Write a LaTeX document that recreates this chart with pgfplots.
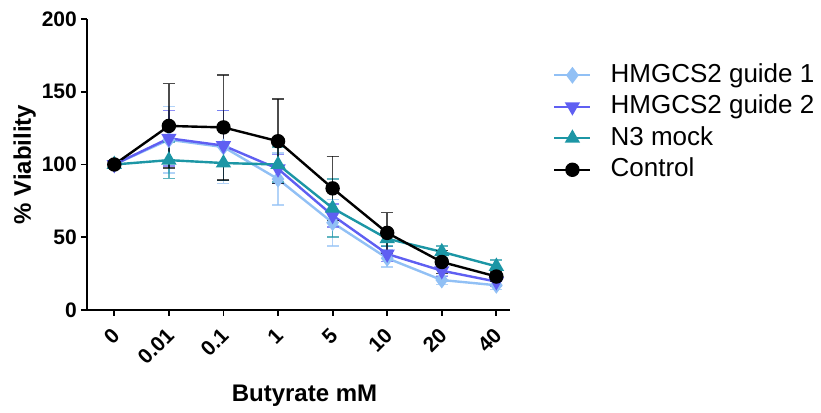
\documentclass[border=0pt]{standalone}
\usepackage{fontspec}
\setmainfont{Liberation Sans}
\usepackage{pgfplots}
\pgfplotsset{compat=1.18}
\definecolor{gone}{RGB}{145,192,245}
\definecolor{gtwo}{RGB}{95,95,242}
\definecolor{nthree}{RGB}{28,150,165}
\begin{document}
\begin{tikzpicture}
\path (0,0) rectangle (821pt,412pt);
\begin{axis}[
  at={(87pt,102pt)}, anchor=south west,
  scale only axis, width=423pt, height=291pt,
  xmin=-0.5, xmax=7.25, ymin=0, ymax=200,
  axis x line=bottom, axis y line=left,
  axis line style={-, line width=1.8pt},
  tick align=outside, major tick length=6pt,
  tick style={line width=1.8pt, black},
  xtick={0,1,2,3,4,5,6,7},
  xticklabels={0,0.01,0.1,1,5,10,20,40},
  ytick={0,50,100,150,200},
  /pgf/number format/assume math mode=true,
  ticklabel style={font=\fontsize{21}{24}\selectfont\bfseries},
  yticklabel style={inner sep=2pt, xshift=-2pt},
  xticklabel style={rotate=45, anchor=north east, inner sep=1pt, xshift=-9pt, yshift=-3.5pt},
  xlabel={Butyrate mM}, ylabel={\% Viability},
  label style={font=\fontsize{24}{28}\selectfont\bfseries},
  xlabel style={at={(axis description cs:0.5,0)}, anchor=base, yshift=-91pt, xshift=6pt},
  ylabel style={at={(axis description cs:0,0.5)}, anchor=base, yshift=56pt},
  legend style={at={(1.1017,0.852)}, anchor=north west, draw=none, fill=none,
    font=\fontsize{26}{31}\selectfont, row sep=5.5pt, inner sep=0pt,
    nodes={inner sep=0pt, text height=20pt, text depth=6pt},
    /tikz/every odd column/.append style={column sep=19pt}},
  legend cell align=left,
  legend image code/.code={\draw[mark repeat=2,mark phase=2,#1] plot coordinates {(0pt,0pt)(18pt,0pt)(36pt,0pt)};},
  every axis plot/.append style={line width=2.4pt},
  error bars/y dir=both, error bars/y explicit,
  error bars/error bar style={line width=1.5pt, opacity=0.7},
  error bars/error mark options={rotate=90, mark size=6pt, line width=1.5pt, opacity=0.7},
]
\addplot[color=gone, mark=diamond*, mark size=6.5pt] table[x=x, y=y, y error=e] {
x y e
0 100 2
1 117 23
2 112 25
3 90 18
4 60 16
5 35.6 6
6 20.6 3
7 17 3
};
\addlegendentry{HMGCS2 guide 1}
\addplot[color=gtwo, mark=triangle*, mark size=6.5pt, mark options={rotate=180}] table[x=x, y=y, y error=e] {
x y e
0 100 2
1 118 19
2 113 24
3 97 10
4 65 8
5 38.5 5
6 27 4
7 19.5 3
};
\addlegendentry{HMGCS2 guide 2}
\addplot[color=nthree, mark=triangle*, mark size=6.5pt] table[x=x, y=y, y error=e] {
x y e
0 100 2
1 103 12.6
2 101 12
3 100 12
4 70 20
5 49 5
6 40 4
7 30 4.4
};
\addlegendentry{N3 mock}
\addplot[color=black, mark=*, mark size=6pt] table[x=x, y=y, y error=e] {
x y e
0 100 2
1 126.5 29
2 125.5 36
3 116 29
4 83.6 22
5 53 14
6 33 8
7 23 3
};
\addlegendentry{Control}
\end{axis}
\end{tikzpicture}
\end{document}
